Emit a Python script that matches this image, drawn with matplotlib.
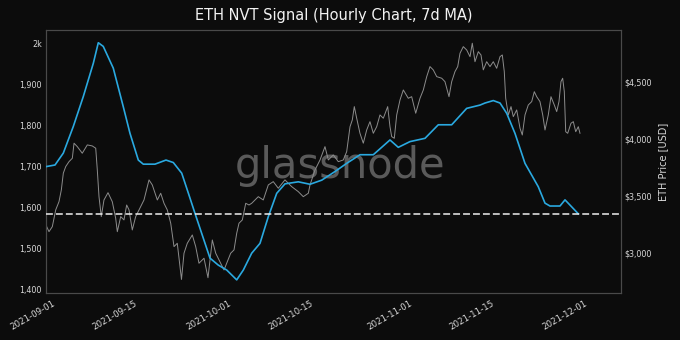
import matplotlib.pyplot as plt
import matplotlib.ticker as mticker
import pandas as pd

start = pd.Timestamp("2021-09-01")

# NVT signal, 7d MA (days since 2021-09-01)
nvt_days = [-1.88, -0.34, 1.08, 2.79, 4.50, 6.21, 7.06, 7.91, 9.62, 11.33, 12.48,
            13.90, 14.75, 16.75, 18.63, 19.88, 21.32, 21.88, 22.74, 23.59, 26.15,
            27.57, 29.01, 30.72, 31.85, 33.28, 34.70, 36.12, 37.56, 38.97, 41.25,
            43.25, 45.25, 47.52, 49.52, 51.79, 54.07, 56.92, 58.34, 60.34, 62.91,
            65.18, 67.47, 70.03, 72.31, 73.16, 74.58, 75.73, 76.87, 78.29, 80.00,
            82.27, 83.42, 84.27, 85.98, 86.84, 87.98, 89.11]
nvt_values = [1699, 1703, 1732, 1797, 1870, 1951, 2001, 1992, 1939, 1845, 1780,
              1715, 1705, 1705, 1715, 1709, 1683, 1659, 1622, 1585, 1476,
              1459, 1447, 1423, 1447, 1488, 1512, 1577, 1634, 1657, 1662,
              1656, 1666, 1687, 1707, 1728, 1728, 1764, 1746, 1760, 1768,
              1801, 1801, 1841, 1849, 1854, 1860, 1854, 1829, 1780, 1707,
              1650, 1610, 1603, 1603, 1618, 1601, 1584]

# ETH price, hourly (days since 2021-09-01)
price_days = [-1.76, -1.37, -0.80, -0.22, 0.34, 0.74, 1.08, 1.49, 2.05, 2.62, 2.91,
              3.47, 4.32, 5.18, 6.03, 6.62, 6.89, 7.18, 7.57, 8.03, 8.72, 9.45,
              10.03, 10.31, 10.89, 11.45, 11.91, 12.31, 12.87, 13.45, 14.31, 14.87,
              15.73, 16.29, 17.15, 17.73, 18.29, 18.85, 19.44, 20.00, 20.56, 21.28,
              21.71, 22.27, 23.13, 23.71, 24.27, 25.13, 25.81, 26.55, 27.13, 27.98,
              28.55, 29.11, 29.69, 30.26, 30.72, 31.11, 31.68, 32.26, 32.82, 33.28,
              34.41, 35.26, 36.12, 36.97, 37.83, 38.97, 40.12, 41.25, 42.10, 42.96,
              43.25, 44.10, 44.96, 45.81, 46.38, 47.23, 48.09, 48.94, 49.52, 50.09,
              50.48, 50.82, 51.23, 51.79, 52.36, 52.94, 53.50, 54.07, 54.65, 55.21,
              55.78, 56.53, 56.92, 57.21, 57.66, 58.07, 58.63, 59.20, 60.05, 60.63,
              61.32, 62.05, 62.62, 63.20, 63.76, 64.32, 64.91, 65.76, 66.32, 67.01,
              67.47, 68.03, 68.50, 68.89, 69.45, 70.03, 70.60, 70.99, 71.45, 72.02,
              72.48, 72.87, 73.45, 74.02, 74.58, 75.16, 75.73, 76.12, 76.46, 76.70,
              77.15, 77.61, 78.00, 78.58, 79.15, 79.54, 80.00, 80.56, 81.15, 81.59,
              82.00, 82.56, 83.03, 83.42, 83.98, 84.44, 85.01, 85.42, 85.81, 86.15,
              86.44, 86.72, 86.96, 87.30, 87.86, 88.26, 88.67, 89.11, 89.40]
price_values = [3228, 3184, 3228, 3375, 3447, 3550, 3697, 3755, 3798, 3828, 3960,
                3930, 3872, 3945, 3936, 3916, 3725, 3491, 3316, 3462, 3526, 3447,
                3302, 3184, 3316, 3287, 3418, 3375, 3199, 3316, 3404, 3462,
                3638, 3594, 3462, 3521, 3433, 3375, 3258, 3053, 3082, 2765,
                2995, 3082, 3155, 3053, 2907, 2951, 2780, 3111, 2995, 2907,
                2848, 2921, 2995, 3024, 3170, 3258, 3287, 3433, 3418, 3433,
                3491, 3462, 3594, 3623, 3565, 3638, 3579, 3535, 3491, 3521,
                3594, 3725, 3813, 3930, 3813, 3857, 3798, 3813, 3886, 4105,
                4164, 4281, 4179, 4047, 3960, 4076, 4149, 4047, 4105, 4208,
                4179, 4281, 4105, 4018, 4003, 4208, 4339, 4427, 4354, 4368,
                4223, 4354, 4427, 4544, 4632, 4603, 4544, 4530, 4500, 4368,
                4500, 4588, 4632, 4749, 4807, 4778, 4719, 4837, 4675, 4763,
                4734, 4603, 4675, 4632, 4675, 4617, 4719, 4734, 4588, 4354,
                4208, 4281, 4193, 4252, 4091, 4032, 4208, 4295, 4325, 4412,
                4368, 4325, 4208, 4076, 4208, 4368, 4295, 4237, 4325, 4500,
                4530, 4412, 4061, 4047, 4135, 4149, 4061, 4105, 4047]

nvt_threshold = 1583
date_ticks = ["2021-09-01", "2021-09-15", "2021-10-01", "2021-10-15",
              "2021-11-01", "2021-11-15", "2021-12-01"]

bg = "#0c0c0c"
text_col = "#d8d8d8"
spine_col = "#4a4a4a"

nvt_dates = start + pd.to_timedelta(nvt_days, unit="D")
price_dates = start + pd.to_timedelta(price_days, unit="D")

fig = plt.figure(figsize=(6.8, 3.4), dpi=100, facecolor=bg)
ax = fig.add_axes([46 / 680, 47 / 340, 574.7 / 680, 263 / 340])
ax2 = ax.twinx()
ax.set_zorder(ax2.get_zorder() + 1)
ax.patch.set_visible(False)
ax2.set_facecolor(bg)

# watermark
ax2.text(0.511, 0.437, "glassnode", transform=ax2.transAxes, ha="center",
         va="baseline", fontsize=30, color="#5a5a5a", zorder=0)

ax2.plot(price_dates, price_values, color="#8c8c8c", lw=0.7, zorder=2)
ax.plot(nvt_dates, nvt_values, color="#2aa9e0", lw=1.2, zorder=3)
ax.axhline(nvt_threshold, color="#eeeeee", lw=1.1, ls=(0, (4.5, 2)), zorder=4)

ax.set_xlim(start + pd.Timedelta(days=-1.88), start + pd.Timedelta(days=96.36))
ax.set_ylim(1391, 2032)
ax2.set_ylim(2646, 4953)

ax.set_yticks([1400, 1500, 1600, 1700, 1800, 1900, 2000])
ax.yaxis.set_major_formatter(mticker.FuncFormatter(
    lambda v, p: "2k" if v == 2000 else f"{v:,.0f}"))
ax2.set_yticks([3000, 3500, 4000, 4500])
ax2.yaxis.set_major_formatter(mticker.FuncFormatter(lambda v, p: f"${v:,.0f}"))

ax.set_xticks(pd.to_datetime(date_ticks))
ax.set_xticklabels(date_ticks, rotation=30, ha="right")

for a in (ax, ax2):
    a.tick_params(colors=text_col, labelsize=5.8, length=0, pad=3)
    for s in a.spines.values():
        s.set_color(spine_col)
        s.set_linewidth(0.8)
ax.tick_params(axis="x", labelsize=6.2, pad=4)

ax2.set_ylabel("ETH Price [USD]", color=text_col, fontsize=7, labelpad=4)
ax.set_title("ETH NVT Signal (Hourly Chart, 7d MA)", color="#f2f2f2",
             fontsize=10.5, pad=7)

fig.savefig("out.png", dpi=100, facecolor=bg)
